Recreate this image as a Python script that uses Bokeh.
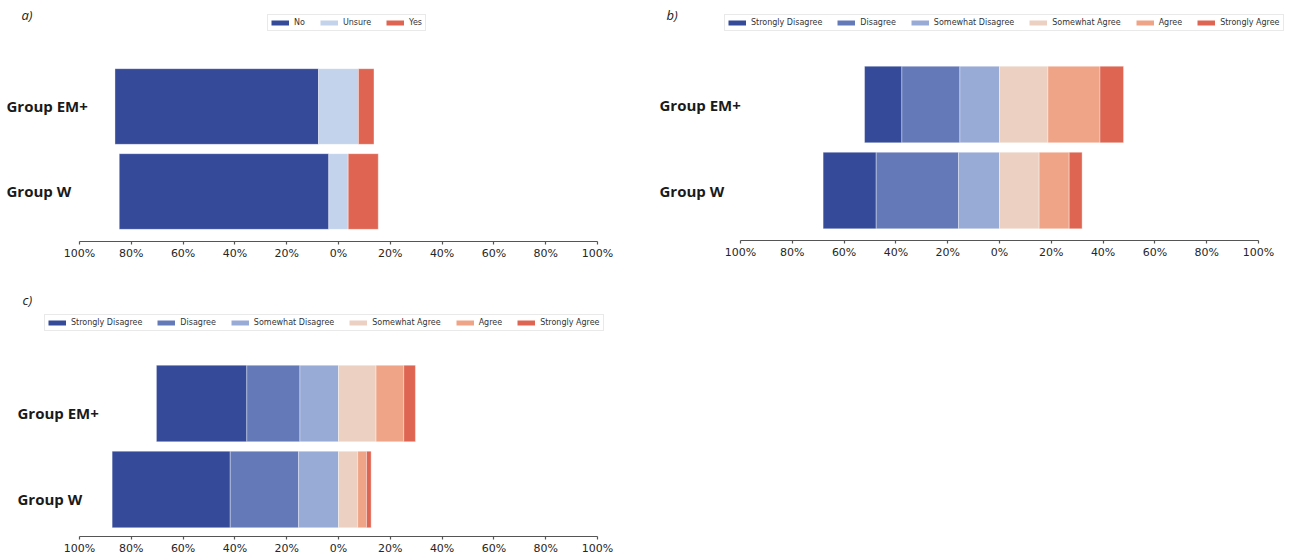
from bokeh.plotting import figure
from bokeh.models import (Range1d, FixedTicker, CustomJSTickFormatter, Legend,
                          LegendItem, Label, ColumnDataSource)
from bokeh.layouts import row, column
from bokeh.embed import file_html
from bokeh.resources import INLINE
from bokeh.core.properties import value

# ---------------- data ----------------
groups = ["Group EM+", "Group W"]          # top to bottom

a_levels = ["No", "Unsure", "Yes"]
a_colors = ["#354A99", "#C2D3EB", "#DF6552"]
a_em = [78.6, 15.4, 6.0]
a_w = [80.9, 7.5, 11.6]

likert_levels = ["Strongly Disagree", "Disagree", "Somewhat Disagree",
                 "Somewhat Agree", "Agree", "Strongly Agree"]
likert_colors = ["#354A99", "#6479B8", "#98ABD6", "#ECD0C1", "#EFA487", "#DE6551"]
b_em = [14.4, 22.4, 15.3, 18.7, 20.1, 9.1]
b_w = [20.5, 31.8, 15.8, 15.3, 11.6, 5.0]
c_em = [34.9, 20.5, 14.9, 14.5, 10.7, 4.5]
c_w = [45.6, 26.4, 15.4, 7.4, 3.4, 1.8]

tick_values = [-100, -80, -60, -40, -20, 0, 20, 40, 60, 80, 100]

PX_PER_PCT = 2.59
NAN = float("nan")


def segments(vals, n_neg, neutral):
    """left/right edges of a diverging stacked bar"""
    start = -sum(vals[:n_neg]) - (vals[neutral] / 2.0 if neutral is not None else 0.0)
    lefts, rights = [], []
    cur = start
    for v in vals:
        lefts.append(cur)
        cur += v
        rights.append(cur)
    return lefts, rights


def make_panel(letter, levels, colors, em_vals, w_vals, n_neg, neutral,
               width, height, border_right, border_bottom, axis_left_px,
               y_start, y_end, legend_x, legend_top, label_dx, label_dy, letter_xy):
    frame_w = width - border_right
    frame_h = height - border_bottom
    x_start = -100 - axis_left_px / PX_PER_PCT
    x_end = x_start + frame_w / PX_PER_PCT
    p = figure(width=width, height=height, output_backend="svg",
               toolbar_location=None, y_axis_location=None,
               x_range=Range1d(x_start, x_end), y_range=Range1d(y_start, y_end),
               min_border_left=0, min_border_right=border_right,
               min_border_top=0, min_border_bottom=border_bottom)
    p.outline_line_color = None
    p.xgrid.visible = False
    p.ygrid.visible = False
    p.background_fill_color = "white"
    p.border_fill_color = "white"

    em_l, em_r = segments(em_vals, n_neg, neutral)
    w_l, w_r = segments(w_vals, n_neg, neutral)
    for i, c in enumerate(colors):
        src = ColumnDataSource(dict(y=[1, 0], left=[em_l[i], w_l[i]],
                                    right=[em_r[i], w_r[i]]))
        p.hbar(y="y", left="left", right="right", height=0.89, source=src,
               fill_color=c, line_color="white", line_width=0.6, line_alpha=0.6)

    # group labels
    p.text(x=[x_start, x_start], y=[1, 0], text=groups, x_offset=label_dx,
           y_offset=label_dy,
           text_font=value("Open Sans"), text_font_style="bold",
           text_font_size="15px", text_color="#1a1a1a",
           text_align="left", text_baseline="middle")

    # axis
    ax = p.xaxis[0]
    ax.ticker = FixedTicker(ticks=tick_values)
    ax.formatter = CustomJSTickFormatter(code="return Math.abs(tick) + '%';")
    ax.bounds = (-100, 100)
    ax.axis_line_color = "#555555"
    ax.axis_line_width = 1.2
    ax.major_tick_line_color = "#555555"
    ax.major_tick_line_width = 1.2
    ax.major_tick_out = 3
    ax.major_tick_in = 0
    ax.minor_tick_line_color = None
    ax.major_label_text_font = "DejaVu Sans"
    ax.major_label_text_font_size = "11px"
    ax.major_label_text_color = "#262626"
    ax.major_label_standoff = 2

    # legend (swatches from invisible NaN lines)
    items = []
    for lvl, c in zip(levels, colors):
        r = p.line(x=[NAN, NAN], y=[NAN, NAN], line_width=5, line_color=c)
        items.append(LegendItem(label=lvl, renderers=[r]))
    leg = Legend(items=items, orientation="horizontal",
                 location=(legend_x, frame_h - legend_top - 15),
                 padding=3, spacing=15, label_standoff=5, margin=0,
                 glyph_width=18, glyph_height=9, label_height=9, label_width=1,
                 label_text_font="DejaVu Sans", label_text_font_size="8px",
                 label_text_color="#333333", border_line_color="#d4d4d4",
                 border_line_width=1, background_fill_color="white",
                 background_fill_alpha=1.0)
    p.add_layout(leg)

    p.add_layout(Label(text=letter, x=letter_xy[0], y=frame_h - letter_xy[1],
                       x_units="screen", y_units="screen",
                       text_font="Open Sans", text_font_style="italic",
                       text_font_size="13px", text_color="#1a1a1a",
                       text_baseline="middle"))
    return p


pa = make_panel("a)", a_levels, a_colors, a_em, a_w, 1, 1,
                width=640, height=282, border_right=20, border_bottom=41,
                axis_left_px=79, y_start=-0.588, y_end=2.247,
                legend_x=267, legend_top=16, label_dx=6, label_dy=-1,
                letter_xy=(21, 14))

pb = make_panel("b)", likert_levels, likert_colors, b_em, b_w, 3, None,
                width=648, height=282, border_right=0, border_bottom=42,
                axis_left_px=100, y_start=-0.581, y_end=2.209,
                legend_x=84, legend_top=16, label_dx=19, label_dy=0,
                letter_xy=(26, 14))

pc = make_panel("c)", likert_levels, likert_colors, c_em, c_w, 3, None,
                width=640, height=277, border_right=20, border_bottom=23,
                axis_left_px=79, y_start=-0.547, y_end=2.407,
                legend_x=44, legend_top=34, label_dx=17, label_dy=10,
                letter_xy=(22, 17))

layout = row(column(pa, pc), pb)
open("out.html", "w").write(file_html(layout, INLINE))
